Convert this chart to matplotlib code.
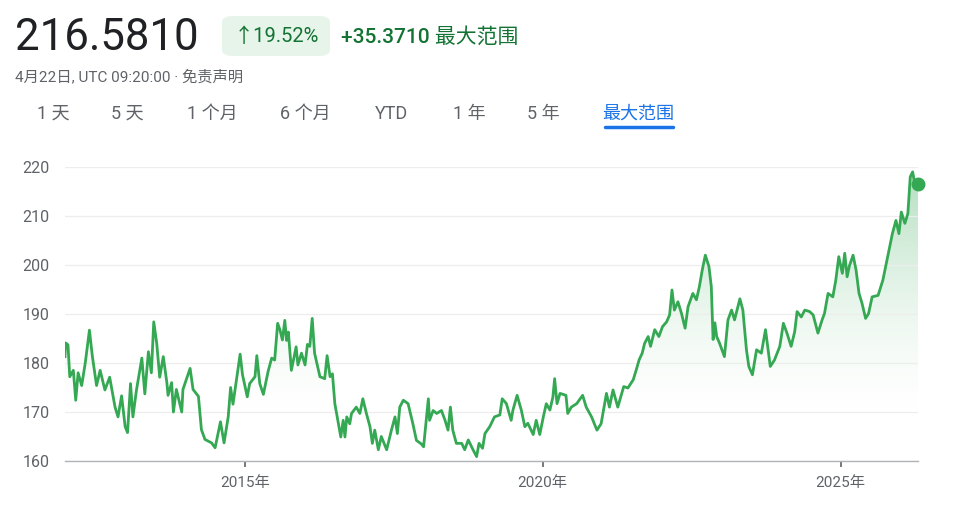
import numpy as np
import matplotlib.pyplot as plt
from matplotlib.patches import FancyBboxPatch, Polygon

plt.rcParams["font.family"] = ["Roboto", "Noto Sans CJK SC", "DejaVu Sans"]

# price history (decimal year, value)
years = [
    2011.98, 2011.99, 2012.03, 2012.06, 2012.12, 2012.16, 2012.20, 2012.26, 2012.32, 2012.39,
    2012.44, 2012.51, 2012.57, 2012.65, 2012.73, 2012.82, 2012.87, 2012.93, 2012.99, 2013.03,
    2013.08, 2013.12, 2013.18, 2013.27, 2013.32, 2013.38, 2013.43, 2013.47, 2013.52, 2013.57,
    2013.63, 2013.69, 2013.71, 2013.77, 2013.80, 2013.85, 2013.94, 2013.96, 2014.08, 2014.13,
    2014.22, 2014.27, 2014.33, 2014.44, 2014.50, 2014.55, 2014.59, 2014.65, 2014.72, 2014.76,
    2014.80, 2014.92, 2014.96, 2015.04, 2015.08, 2015.17, 2015.20, 2015.25, 2015.31, 2015.39,
    2015.45, 2015.50, 2015.55, 2015.59, 2015.63, 2015.67, 2015.70, 2015.73, 2015.78, 2015.86,
    2015.89, 2015.95, 2016.01, 2016.05, 2016.09, 2016.13, 2016.17, 2016.26, 2016.34, 2016.38,
    2016.43, 2016.47, 2016.51, 2016.57, 2016.61, 2016.65, 2016.68, 2016.71, 2016.76, 2016.79,
    2016.87, 2016.93, 2016.98, 2017.04, 2017.10, 2017.14, 2017.18, 2017.24, 2017.29, 2017.38,
    2017.46, 2017.52, 2017.56, 2017.60, 2017.66, 2017.74, 2017.82, 2017.88, 2017.96, 2018.00,
    2018.08, 2018.10, 2018.16, 2018.22, 2018.30, 2018.36, 2018.41, 2018.45, 2018.49, 2018.55,
    2018.64, 2018.69, 2018.75, 2018.83, 2018.89, 2018.93, 2018.99, 2019.03, 2019.11, 2019.19,
    2019.28, 2019.32, 2019.39, 2019.47, 2019.50, 2019.57, 2019.64, 2019.70, 2019.75, 2019.84,
    2019.89, 2019.95, 2020.01, 2020.06, 2020.12, 2020.17, 2020.20, 2020.24, 2020.29, 2020.39,
    2020.42, 2020.48, 2020.57, 2020.67, 2020.73, 2020.82, 2020.91, 2020.98, 2021.07, 2021.12,
    2021.18, 2021.26, 2021.36, 2021.43, 2021.52, 2021.57, 2021.62, 2021.67, 2021.71, 2021.77,
    2021.81, 2021.88, 2021.95, 2022.01, 2022.08, 2022.13, 2022.17, 2022.21, 2022.27, 2022.33,
    2022.39, 2022.44, 2022.52, 2022.58, 2022.63, 2022.68, 2022.73, 2022.79, 2022.83, 2022.86,
    2022.89, 2022.92, 2022.97, 2023.05, 2023.11, 2023.17, 2023.22, 2023.31, 2023.36, 2023.42,
    2023.46, 2023.52, 2023.59, 2023.67, 2023.74, 2023.82, 2023.89, 2023.98, 2024.04, 2024.10,
    2024.17, 2024.23, 2024.27, 2024.34, 2024.40, 2024.48, 2024.54, 2024.62, 2024.69, 2024.73,
    2024.79, 2024.87, 2024.92, 2024.97, 2025.03, 2025.07, 2025.11, 2025.15, 2025.21, 2025.26,
    2025.31, 2025.36, 2025.42, 2025.47, 2025.53, 2025.63, 2025.71, 2025.79, 2025.87, 2025.93,
    2025.98, 2026.02, 2026.08, 2026.13, 2026.17, 2026.21, 2026.24, 2026.30,
]
prices = [
    181.3, 184.1, 183.7, 177.2, 178.5, 172.4, 178.0, 175.4, 180.0, 186.7,
    181.3, 175.4, 178.5, 174.5, 177.1, 171.0, 169.0, 173.3, 167.0, 165.8,
    175.8, 169.0, 174.5, 181.0, 173.7, 182.3, 178.0, 188.4, 184.0, 177.1,
    181.3, 176.0, 173.4, 176.0, 170.0, 174.6, 170.0, 174.6, 178.9, 174.6,
    173.2, 166.4, 164.4, 163.7, 162.7, 165.7, 168.0, 163.7, 169.0, 175.0,
    171.6, 181.8, 177.6, 173.1, 175.8, 177.2, 181.5, 175.8, 173.6, 178.3,
    181.0, 180.6, 188.1, 186.7, 184.7, 188.7, 184.6, 186.3, 178.5, 183.3,
    179.6, 182.0, 179.6, 183.8, 183.4, 189.1, 182.0, 177.2, 176.8, 181.5,
    177.2, 177.8, 171.7, 167.6, 164.9, 168.3, 164.9, 169.0, 167.6, 169.7,
    171.0, 169.7, 172.7, 169.7, 167.0, 163.6, 166.3, 162.3, 165.0, 162.3,
    166.3, 169.0, 165.6, 171.0, 172.4, 171.7, 167.6, 164.2, 163.5, 162.9,
    172.7, 168.3, 170.3, 169.7, 170.3, 168.3, 166.3, 171.0, 166.3, 163.6,
    163.6, 162.3, 164.3, 162.3, 160.9, 163.6, 162.6, 165.6, 167.0, 169.0,
    169.4, 172.7, 171.7, 168.3, 170.4, 173.4, 170.4, 167.0, 167.7, 165.4,
    168.3, 165.4, 169.0, 171.7, 170.4, 173.0, 176.8, 171.7, 173.8, 173.4,
    169.7, 171.0, 171.7, 173.4, 171.0, 169.0, 166.3, 167.6, 173.8, 171.0,
    174.5, 171.0, 175.2, 174.9, 176.6, 178.6, 180.7, 182.0, 184.0, 185.4,
    183.4, 186.8, 185.4, 187.4, 188.4, 189.8, 194.9, 190.8, 192.5, 190.1,
    187.1, 191.5, 194.2, 192.9, 195.6, 199.1, 202.0, 199.7, 195.6, 184.8,
    188.2, 185.4, 184.0, 181.3, 188.8, 190.8, 188.8, 193.1, 190.8, 182.7,
    179.3, 177.6, 182.7, 182.0, 186.8, 179.3, 180.6, 183.4, 188.1, 186.1,
    183.4, 186.4, 190.5, 189.4, 190.8, 190.5, 189.8, 186.1, 188.8, 190.1,
    194.2, 193.5, 196.9, 201.7, 198.3, 202.4, 197.6, 199.9, 202.0, 199.0,
    194.2, 192.2, 189.1, 190.1, 193.5, 193.8, 196.9, 201.7, 206.4, 209.1,
    206.4, 210.8, 208.5, 210.5, 218.0, 219.0, 217.0, 216.58,
]
y_ticks = [160, 170, 180, 190, 200, 210, 220]
x_ticks = [2015, 2020, 2025]
x_labels = ["2015年", "2020年", "2025年"]
tabs = ["1 天", "5 天", "1 个月", "6 个月", "YTD", "1 年", "5 年", "最大范围"]

GREEN = "#34a853"
DARK_GREEN = "#137333"
GRAY = "#5f6368"
BLUE = "#1a73e8"

fig = plt.figure(figsize=(9.6, 5.2), dpi=100)
ax = fig.add_axes([65 / 960, 1 - 461 / 520, (918 - 65) / 960, (461 - 167) / 520])

x = np.array(years)
y = np.array(prices)

# vertical gradient under the line, clipped to the area
ymin, ymax = 160, 220
grad_v = np.linspace(ymin, ymax, 256)
alpha = np.clip((grad_v - 168) / (ymax - 168), 0, 1) ** 1.6 * 0.38
rgba = np.zeros((256, 1, 4))
rgba[..., 0] = 0x34 / 255
rgba[..., 1] = 0xa8 / 255
rgba[..., 2] = 0x53 / 255
rgba[:, 0, 3] = alpha
im = ax.imshow(rgba, extent=[x[0], x[-1], ymin, ymax], origin="lower",
               aspect="auto", zorder=1, interpolation="bilinear")
verts = np.vstack([np.column_stack([x, y]), [[x[-1], ymin], [x[0], ymin]]])
clip = Polygon(verts, closed=True, facecolor="none", edgecolor="none")
ax.add_patch(clip)
im.set_clip_path(clip)

ax.plot(x, y, color=GREEN, lw=2.0, zorder=3, solid_joinstyle="round")
ax.plot(x[-1], y[-1], "o", color=GREEN, ms=9, zorder=4, clip_on=False)

ax.set_xlim(x[0], 2026.30)
ax.set_ylim(ymin, ymax)
ax.set_yticks(y_ticks)
ax.set_xticks(x_ticks)
ax.set_xticklabels(x_labels)
ax.grid(axis="y", color="#ededed", lw=0.9, zorder=0)
for s in ["top", "right", "left"]:
    ax.spines[s].set_visible(False)
ax.spines["bottom"].set_color("#b0b4b8")
ax.spines["bottom"].set_linewidth(1.0)
ax.tick_params(axis="y", length=0, pad=11, labelsize=11.5, labelcolor=GRAY)
ax.tick_params(axis="x", length=4, width=1.2, color="#5f6368", pad=7,
               labelsize=11, labelcolor=GRAY)

# header
fig.text(15 / 960, 1 - 38 / 520, "216.5810", fontsize=31.5, color="#202124",
         va="center", ha="left")
badge = FancyBboxPatch((222 / 960, 1 - 56 / 520), 108 / 960, 40 / 520,
                       boxstyle="round,pad=0,rounding_size=0.012",
                       transform=fig.transFigure, facecolor="#e6f4ea",
                       edgecolor="none")
fig.patches.append(badge)
fig.text(276 / 960, 1 - 37 / 520, "↑19.52%", fontsize=14.5, color=DARK_GREEN,
         va="center", ha="center")
fig.text(341 / 960, 1 - 37 / 520, "+35.3710 最大范围", fontsize=15,
         color=DARK_GREEN, va="center", ha="left", fontweight="medium")
fig.text(15 / 960, 1 - 77 / 520, "4月22日, UTC 09:20:00 · 免责声明",
         fontsize=11, color=GRAY, va="center", ha="left")

tab_x = [37, 111, 187, 280, 375, 453, 527, 602]
for tx, label in zip(tab_x, tabs):
    col = BLUE if label == "最大范围" else GRAY
    fig.text(tx / 960, 1 - 114 / 520, label, fontsize=13, color=col,
             va="center", ha="left")
fig.add_artist(plt.Line2D([605 / 960, 673 / 960], [1 - 127 / 520, 1 - 127 / 520],
                          color=BLUE, lw=2.5, solid_capstyle="round",
                          transform=fig.transFigure))

fig.savefig("out.png", dpi=100)
